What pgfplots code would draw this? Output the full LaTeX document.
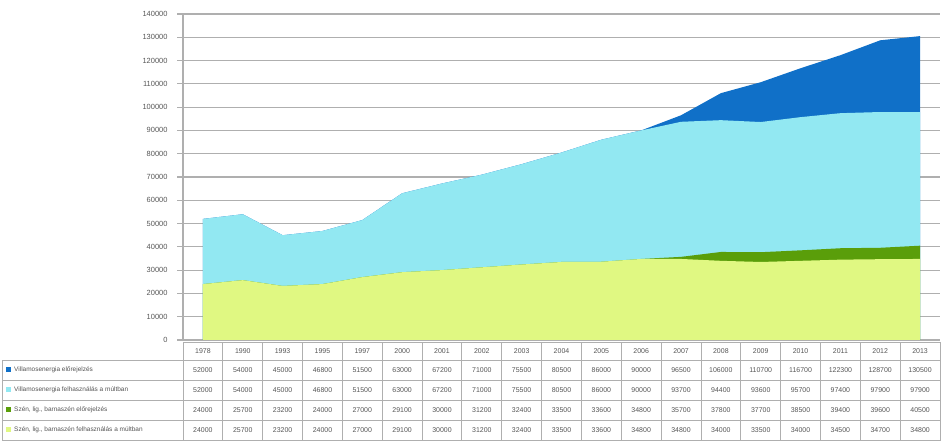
\documentclass[border=0pt]{standalone}
\usepackage{pgfplots}
\pgfplotsset{compat=1.18}
\usepackage{pgfplotstable}
\usepackage{fontspec}
\setmainfont{Liberation Sans}
\definecolor{dblue}{RGB}{16,112,200}
\definecolor{lblue}{RGB}{146,232,242}
\definecolor{dgreen}{RGB}{90,158,10}
\definecolor{lgreen}{RGB}{224,248,130}
\definecolor{gridc}{RGB}{175,175,175}
\definecolor{txt}{RGB}{85,85,85}

\pgfplotstableread{
x year d1 d2 d3 d4
0 1978 52000 52000 24000 24000
1 1990 54000 54000 25700 25700
2 1993 45000 45000 23200 23200
3 1995 46800 46800 24000 24000
4 1997 51500 51500 27000 27000
5 2000 63000 63000 29100 29100
6 2001 67200 67200 30000 30000
7 2002 71000 71000 31200 31200
8 2003 75500 75500 32400 32400
9 2004 80500 80500 33500 33500
10 2005 86000 86000 33600 33600
11 2006 90000 90000 34800 34800
12 2007 96500 93700 35700 34800
13 2008 106000 94400 37800 34000
14 2009 110700 93600 37700 33500
15 2010 116700 95700 38500 34000
16 2011 122300 97400 39400 34500
17 2012 128700 97900 39600 34700
18 2013 130500 97900 40500 34800
}\data

\begin{document}
\begin{tikzpicture}[x=1bp,y=1bp]
\useasboundingbox (0,0) rectangle (941,441);
\begin{axis}[
  at={(183bp,101bp)}, anchor=south west,
  scale only axis, width=757bp, height=326bp,
  xmin=-0.5, xmax=18.5, ymin=0, ymax=140000,
  xtick=\empty,
  ytick={0,10000,...,140000},
  scaled y ticks=false,
  yticklabel={\pgfmathprintnumber[fixed,precision=0,1000 sep={},assume math mode=true]{\tick}},
  yticklabel style={font=\fontsize{7.5}{8}\selectfont, text=txt, xshift=-6bp},
  axis lines*=left,
  axis line style={gridc, line width=1.2bp},
  ymajorgrids,
  grid style={gridc, line width=1.2bp},
  tick align=outside,
  major tick length=6bp,
  tick style={gridc, line width=1.2bp},
  clip=false,
]
\addplot[fill=dblue, draw=none] table[x=x,y=d1]{\data} \closedcycle;
\addplot[fill=lblue, draw=none] table[x=x,y=d2]{\data} \closedcycle;
\addplot[fill=dgreen, draw=none] table[x=x,y=d3]{\data} \closedcycle;
\addplot[fill=lgreen, draw=none] table[x=x,y=d4]{\data} \closedcycle;
\end{axis}

% data table
\begin{scope}[gridc, line width=0.9bp]
  \draw (183,99) -- (941,99);
  \draw (2,81) -- (941,81);
  \draw (2,61) -- (941,61);
  \draw (2,41) -- (941,41);
  \draw (2,21) -- (941,21);
  \draw (2,1) -- (941,1);
  \draw (2,1) -- (2,81);
  \foreach \k in {0,...,19} {
    \draw ({183+39.842*\k},1) -- ({183+39.842*\k},99);
  }
\end{scope}

\foreach \i in {0,...,18} {
  \pgfmathsetmacro{\cx}{183+39.842*(\i+0.5)}
  \pgfplotstablegetelem{\i}{year}\of\data
  \node[font=\fontsize{7}{8}\selectfont, text=txt] at (\cx,90) {\pgfplotsretval};
  \pgfplotstablegetelem{\i}{d1}\of\data
  \node[font=\fontsize{7}{8}\selectfont, text=txt] at (\cx,71) {\pgfplotsretval};
  \pgfplotstablegetelem{\i}{d2}\of\data
  \node[font=\fontsize{7}{8}\selectfont, text=txt] at (\cx,51) {\pgfplotsretval};
  \pgfplotstablegetelem{\i}{d3}\of\data
  \node[font=\fontsize{7}{8}\selectfont, text=txt] at (\cx,31) {\pgfplotsretval};
  \pgfplotstablegetelem{\i}{d4}\of\data
  \node[font=\fontsize{7}{8}\selectfont, text=txt] at (\cx,11) {\pgfplotsretval};
}

% legend keys and row labels
\fill[dblue] (6,68.5) rectangle (11,73.5);
\fill[lblue] (6,48.5) rectangle (11,53.5);
\fill[dgreen] (6,28.5) rectangle (11,33.5);
\fill[lgreen] (6,8.5) rectangle (11,13.5);
\node[anchor=west, font=\fontsize{6.5}{7}\selectfont, text=txt, inner sep=0] at (14,71) {Villamosenergia előrejelzés};
\node[anchor=west, font=\fontsize{6.5}{7}\selectfont, text=txt, inner sep=0] at (14,51) {Villamosenergia felhasználás a múltban};
\node[anchor=west, font=\fontsize{6.5}{7}\selectfont, text=txt, inner sep=0] at (14,31) {Szén, lig., barnaszén előrejelzés};
\node[anchor=west, font=\fontsize{6.5}{7}\selectfont, text=txt, inner sep=0] at (14,11) {Szén, lig., barnaszén felhasználás a múltban};
\end{tikzpicture}
\end{document}
